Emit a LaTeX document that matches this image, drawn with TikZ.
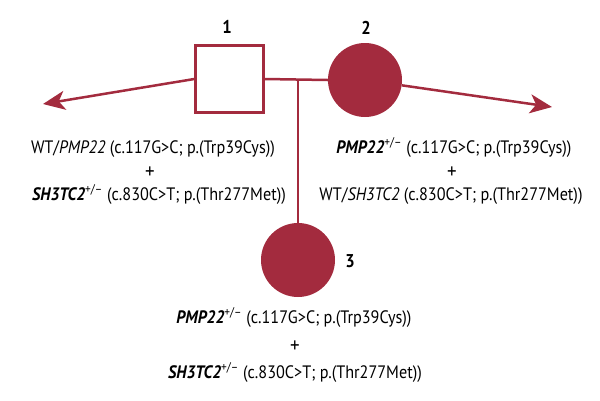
\documentclass[tikz,border=0pt]{standalone}
\usepackage{fontspec}
\setmainfont{PT Sans}[FakeStretch=0.9]
\usetikzlibrary{arrows.meta}
\definecolor{ped}{RGB}{163,43,62}
\tikzset{
  pline/.style={draw=ped, line width=2.5pt},
  arr/.style={pline, -{Stealth[length=22pt,width=19pt,inset=6pt]}},
  female/.style={circle, fill=ped, draw=none, minimum size=74pt, inner sep=0pt},
  male/.style={rectangle, pline, fill=white, minimum width=68pt, minimum height=67pt, inner sep=0pt},
  num/.style={font=\fontsize{18.5}{20}\selectfont\bfseries, inner sep=0pt},
  txt/.style={font=\fontsize{18}{20}\selectfont, inner sep=0pt, anchor=base},
  plus/.style={font=\fontsize{21}{22}\selectfont, inner sep=0pt, anchor=base},
}
\newcommand{\hz}{\textsuperscript{+/–}}
\newcommand{\gene}[1]{{\bfseries\itshape #1}}
\begin{document}
\begin{tikzpicture}[x=1pt,y=-1pt]
\useasboundingbox (0,0) rectangle (600,400);
\node[male] (sq) at (229.5,79) {};
\node[female] (c2) at (365,80) {};
\node[female] (c3) at (298,260) {};
\coordinate (mid) at (298,80);
\coordinate (tl) at (43,104);
\coordinate (tr) at (552,107);
\draw[pline] (sq.east) -- (c2.west);
\draw[pline] (mid) -- (c3.north);
\draw[arr] (sq.west) -- (tl);
\draw[arr] (c2) -- (tr);
\node[num] (n1) at (227,27) {1};
\node[num] (n2) at (366,28) {2};
\node[num] (n3) at (350,261) {3};
% left
\node[txt] (l1) at (153,153) {WT/\textit{PMP22} (c.117G>C; p.(Trp39Cys))};
\node[plus] (l2) at (150,178) {+};
\node[txt] (l3) at (159,200) {\gene{SH3TC2}\hz{} (c.830C>T; p.(Thr277Met))};
% right
\node[txt] (r1) at (454,153) {\gene{PMP22}\hz{} (c.117G>C; p.(Trp39Cys))};
\node[plus] (r2) at (452,178) {+};
\node[txt] (r3) at (451,200) {WT/\textit{SH3TC2} (c.830C>T; p.(Thr277Met))};
% bottom
\node[txt] (b1) at (294,323) {\gene{PMP22}\hz{} (c.117G>C; p.(Trp39Cys))};
\node[plus] (b2) at (295,352) {+};
\node[txt] (b3) at (295,378) {\gene{SH3TC2}\hz{} (c.830C>T; p.(Thr277Met))};
\end{tikzpicture}
\end{document}
